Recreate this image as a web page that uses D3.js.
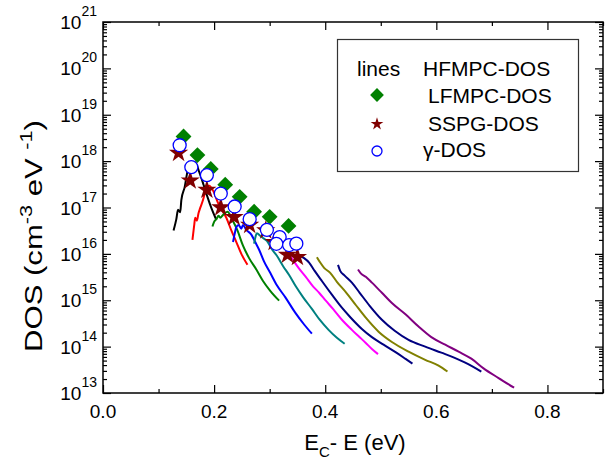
<!DOCTYPE html>
<html>
<head>
<meta charset="utf-8">
<script src="https://cdn.jsdelivr.net/npm/d3@7"></script>
<style>
  body { margin: 0; background: #fff; }
  svg { font-family: "Liberation Sans", Arial, sans-serif; }
</style>
</head>
<body>
<div id="chart"></div>
<script>
// Chart dimensions
const width = 606;
const height = 460;
const margin = { top: 22, right: 3, bottom: 67, left: 103 };

// tick values
const xMajor = [0.0, 0.2, 0.4, 0.6, 0.8];
const xMinor = [0.1, 0.3, 0.5, 0.7, 0.9];
const yExponents = [13, 14, 15, 16, 17, 18, 19, 20, 21];

// HFMPC-DOS lines, [E, DOS]
const lineBlack = [[0.127,3.2e16],[0.132,5.6e16],[0.135,8.9e16],[0.139,7.9e16],[0.141,1.45e17],[0.147,2.75e17],[0.152,5.9e17],[0.157,8.3e17],[0.166,9.5e17],[0.173,5.9e17],[0.181,3.1e17],[0.188,1.7e17],[0.195,9.8e16],[0.204,5.4e16]];
const lineRed = [[0.161,2.0e16],[0.164,4.0e16],[0.166,6.0e16],[0.169,5.2e16],[0.172,7.6e16],[0.175,9.8e16],[0.180,1.45e17],[0.184,2.2e17],[0.191,2.95e17],[0.199,2.2e17],[0.207,1.26e17],[0.215,8.5e16],[0.222,6.0e16],[0.231,3.2e16],[0.240,1.8e16],[0.249,1.0e16],[0.260,5.8e15]];
const lineGreen = [[0.197,3.9e16],[0.200,4.9e16],[0.204,5.6e16],[0.208,6.6e16],[0.211,6.0e16],[0.216,6.9e16],[0.224,8.1e16],[0.233,5.4e16],[0.242,3.2e16],[0.252,1.5e16],[0.263,8.1e15],[0.276,4.6e15],[0.288,2.6e15],[0.301,1.6e15],[0.317,9.8e14]];
const lineBlue = [[0.234,1.8e16],[0.237,2.7e16],[0.240,3.8e16],[0.244,4.2e16],[0.249,3.5e16],[0.252,4.2e16],[0.258,3.3e16],[0.267,2.6e16],[0.274,1.8e16],[0.281,1.23e16],[0.290,6.8e15],[0.301,3.9e15],[0.313,2.1e15],[0.328,1.17e15],[0.346,5.4e14],[0.362,3.0e14],[0.376,1.9e14]];
const lineTeal = [[0.272,1.66e16],[0.275,2.45e16],[0.277,2.8e16],[0.283,2.45e16],[0.288,2.2e16],[0.295,1.9e16],[0.304,1.26e16],[0.313,9.1e15],[0.324,5.5e15],[0.335,3.5e15],[0.347,2.0e15],[0.360,1.17e15],[0.376,6.5e14],[0.390,3.8e14],[0.406,2.3e14],[0.421,1.55e14],[0.435,1.15e14]];
const lineMagenta = [[0.333,1.1e16],[0.344,6.8e15],[0.353,4.8e15],[0.365,3.2e15],[0.378,2.0e15],[0.389,1.45e15],[0.401,9.8e14],[0.414,6.5e14],[0.430,3.8e14],[0.448,2.3e14],[0.462,1.6e14],[0.473,1.2e14],[0.484,8.9e13],[0.495,6.9e13]];
const lineNavy = [[0.355,9.1e15],[0.362,8.1e15],[0.371,6.5e15],[0.381,4.3e15],[0.394,2.6e15],[0.412,1.32e15],[0.430,6.9e14],[0.446,4.2e14],[0.466,2.4e14],[0.484,1.6e14],[0.505,1.1e14],[0.528,7.4e13],[0.544,5.5e13],[0.557,4.3e13]];
const lineOlive = [[0.385,8.5e15],[0.391,6.5e15],[0.398,5.0e15],[0.409,3.9e15],[0.421,2.5e15],[0.437,1.5e15],[0.455,7.9e14],[0.473,4.2e14],[0.496,2.1e14],[0.520,1.26e14],[0.550,7.8e13],[0.580,5.2e13],[0.604,3.9e13],[0.620,2.9e13]];
const lineNavy2 = [[0.423,5.8e15],[0.427,4.3e15],[0.435,3.4e15],[0.448,2.4e15],[0.462,1.45e15],[0.480,7.6e14],[0.502,3.8e14],[0.525,2.2e14],[0.550,1.4e14],[0.580,1.0e14],[0.609,7.4e13],[0.632,5.8e13],[0.652,4.5e13],[0.681,2.9e13]];
const linePurple = [[0.459,4.6e15],[0.464,3.8e15],[0.473,3.2e15],[0.484,2.4e15],[0.502,1.45e15],[0.520,8.7e14],[0.545,4.9e14],[0.568,2.7e14],[0.591,1.6e14],[0.616,1.1e14],[0.640,7.8e13],[0.663,5.5e13],[0.685,3.4e13],[0.712,2.1e13],[0.740,1.3e13]];

const lineSeries = [
  { data: lineBlack, color: "#000000" },
  { data: lineRed, color: "#ff0000" },
  { data: lineGreen, color: "#008000" },
  { data: lineBlue, color: "#0000ff" },
  { data: lineTeal, color: "#008080" },
  { data: lineMagenta, color: "#ff00ff" },
  { data: lineNavy, color: "#000080" },
  { data: lineOlive, color: "#808000" },
  { data: lineNavy2, color: "#000080" },
  { data: linePurple, color: "#800080" }
];

// LFMPC-DOS (diamonds)
const lfmpcE = [0.145, 0.170, 0.194, 0.220, 0.246, 0.272, 0.300, 0.334];
const lfmpcDOS = [3.4e18, 1.35e18, 6.8e17, 3.1e17, 1.7e17, 8.1e16, 6.3e16, 4.0e16];
// SSPG-DOS (stars)
const sspgE = [0.136, 0.157, 0.187, 0.212, 0.236, 0.264, 0.293, 0.308, 0.332, 0.350];
const sspgDOS = [1.5e18, 3.8e17, 2.4e17, 1.0e17, 6.2e16, 4.2e16, 3.2e16, 1.8e16, 9.5e15, 8.5e15];
// gamma-DOS (circles)
const gammaE = [0.138, 0.159, 0.187, 0.212, 0.237, 0.264, 0.295, 0.318, 0.312, 0.335, 0.348];
const gammaDOS = [2.2e18, 7.4e17, 5.0e17, 2.0e17, 1.05e17, 5.6e16, 3.3e16, 2.3e16, 1.65e16, 1.55e16, 1.66e16];

const innerW = width - margin.left - margin.right;
const innerH = height - margin.top - margin.bottom;

const svg = d3.select("#chart")
  .append("svg")
  .attr("width", width)
  .attr("height", height)
  .append("g")
  .attr("transform", `translate(${margin.left},${margin.top})`);

// Scales
const xScale = d3.scaleLinear().domain([0, 0.9]).range([0, innerW]);
const yScale = d3.scaleLog().domain([1e13, 1e21]).range([innerH, 0]);

const yMajor = yExponents.map(e => Math.pow(10, e));
const yMinor = [];
yExponents.slice(0, -1).forEach(e => {
  for (let m = 2; m <= 9; m++) yMinor.push(m * Math.pow(10, e));
});

// axes: ticks inward on all four sides
function tickAxis(axisFn, scale, values, size, transform) {
  const g = svg.append("g")
    .attr("transform", transform)
    .call(axisFn(scale).tickValues(values).tickSize(size).tickFormat(""));
  g.select(".domain").remove();
  g.selectAll("line").attr("stroke", "#000").attr("stroke-width", 1.2);
  return g;
}
tickAxis(d3.axisBottom, xScale, xMajor, -8, `translate(0,${innerH})`);
tickAxis(d3.axisBottom, xScale, xMinor, -4, `translate(0,${innerH})`);
tickAxis(d3.axisTop, xScale, xMajor, -8, "translate(0,0)");
tickAxis(d3.axisTop, xScale, xMinor, -4, "translate(0,0)");
tickAxis(d3.axisLeft, yScale, yMajor, -8, "translate(0,0)");
tickAxis(d3.axisLeft, yScale, yMinor, -4, "translate(0,0)");
tickAxis(d3.axisRight, yScale, yMajor, -8, `translate(${innerW},0)`);
tickAxis(d3.axisRight, yScale, yMinor, -4, `translate(${innerW},0)`);

// x tick labels
svg.append("g")
  .selectAll("text")
  .data(xMajor)
  .enter()
  .append("text")
  .attr("x", d => xScale(d))
  .attr("y", innerH + 25)
  .attr("text-anchor", "middle")
  .style("font-size", "19px")
  .text(d => d.toFixed(1));

// y tick labels 10^n
const yLabels = svg.append("g")
  .selectAll("text")
  .data(yExponents)
  .enter()
  .append("text")
  .attr("x", -6)
  .attr("y", d => yScale(Math.pow(10, d)) + 7)
  .attr("text-anchor", "end")
  .style("font-size", "19px");
yLabels.append("tspan").text("10");
yLabels.append("tspan").attr("dy", -13).style("font-size", "14px").text(d => d);

// frame
svg.append("rect")
  .attr("width", innerW)
  .attr("height", innerH)
  .attr("fill", "none")
  .attr("stroke", "#000")
  .attr("stroke-width", 1.5);

// axis titles
const xTitle = svg.append("text")
  .attr("x", (301 + 409) / 2 - margin.left)
  .attr("y", innerH + 57)
  .attr("text-anchor", "middle")
  .style("font-size", "22px");
xTitle.append("tspan").text("E");
xTitle.append("tspan").attr("dy", 7).style("font-size", "15px").text("C");
xTitle.append("tspan").attr("dy", -7).text("- E (eV)");

const yTitle = svg.append("text")
  .attr("transform", `translate(${42 - margin.left},${236 - margin.top}) rotate(-90)`)
  .attr("text-anchor", "middle")
  .attr("textLength", 232)
  .attr("lengthAdjust", "spacingAndGlyphs")
  .style("font-size", "23px");
yTitle.append("tspan").text("DOS (cm");
yTitle.append("tspan").attr("dy", -10).style("font-size", "16px").text("-3");
yTitle.append("tspan").attr("dy", 10).text(" eV ");
yTitle.append("tspan").attr("dy", -10).style("font-size", "16px").text("-1");
yTitle.append("tspan").attr("dy", 10).text(")");

// lines
const line = d3.line()
  .x(d => xScale(d[0]))
  .y(d => yScale(d[1]))
  .curve(d3.curveMonotoneX);

svg.append("g")
  .selectAll("path")
  .data(lineSeries)
  .enter()
  .append("path")
  .attr("d", d => line(d.data))
  .attr("fill", "none")
  .attr("stroke", d => d.color)
  .attr("stroke-width", 2);

// markers
const diamond = d3.symbol().type(d3.symbolSquare).size(125);
const star = d3.symbol().type(d3.symbolStar).size(115);

svg.append("g")
  .selectAll("path")
  .data(d3.zip(lfmpcE, lfmpcDOS))
  .enter()
  .append("path")
  .attr("d", diamond)
  .attr("transform", d => `translate(${xScale(d[0])},${yScale(d[1])}) rotate(45)`)
  .attr("fill", "#008000");

svg.append("g")
  .selectAll("path")
  .data(d3.zip(sspgE, sspgDOS))
  .enter()
  .append("path")
  .attr("d", star)
  .attr("transform", d => `translate(${xScale(d[0])},${yScale(d[1])})`)
  .attr("fill", "#800000");

svg.append("g")
  .selectAll("circle")
  .data(d3.zip(gammaE, gammaDOS))
  .enter()
  .append("circle")
  .attr("cx", d => xScale(d[0]))
  .attr("cy", d => yScale(d[1]))
  .attr("r", 6.5)
  .attr("fill", "#fff")
  .attr("stroke", "#0000ff")
  .attr("stroke-width", 1.3);

// legend
const legend = d3.select("svg").append("g");
legend.append("rect")
  .attr("x", 337.5)
  .attr("y", 39.5)
  .attr("width", 241)
  .attr("height", 132)
  .attr("fill", "#fff")
  .attr("stroke", "#333")
  .attr("stroke-width", 1.2);

const legendFont = "21px";
legend.append("text").attr("x", 357).attr("y", 76).style("font-size", legendFont).text("lines");
legend.append("text").attr("x", 423).attr("y", 76).style("font-size", legendFont).text("HFMPC-DOS");
legend.append("text").attr("x", 428).attr("y", 103).style("font-size", legendFont).text("LFMPC-DOS");
legend.append("text").attr("x", 428).attr("y", 131).style("font-size", legendFont).text("SSPG-DOS");
legend.append("text").attr("x", 423).attr("y", 157).style("font-size", legendFont).text("γ-DOS");

legend.append("path")
  .attr("d", d3.symbol().type(d3.symbolSquare).size(95)())
  .attr("transform", "translate(377,95) rotate(45)")
  .attr("fill", "#008000");
legend.append("path")
  .attr("d", d3.symbol().type(d3.symbolStar).size(50)())
  .attr("transform", "translate(377,124)")
  .attr("fill", "#800000");
legend.append("circle")
  .attr("cx", 377)
  .attr("cy", 151)
  .attr("r", 5)
  .attr("fill", "#fff")
  .attr("stroke", "#0000ff")
  .attr("stroke-width", 1.3);
</script>
</body>
</html>
